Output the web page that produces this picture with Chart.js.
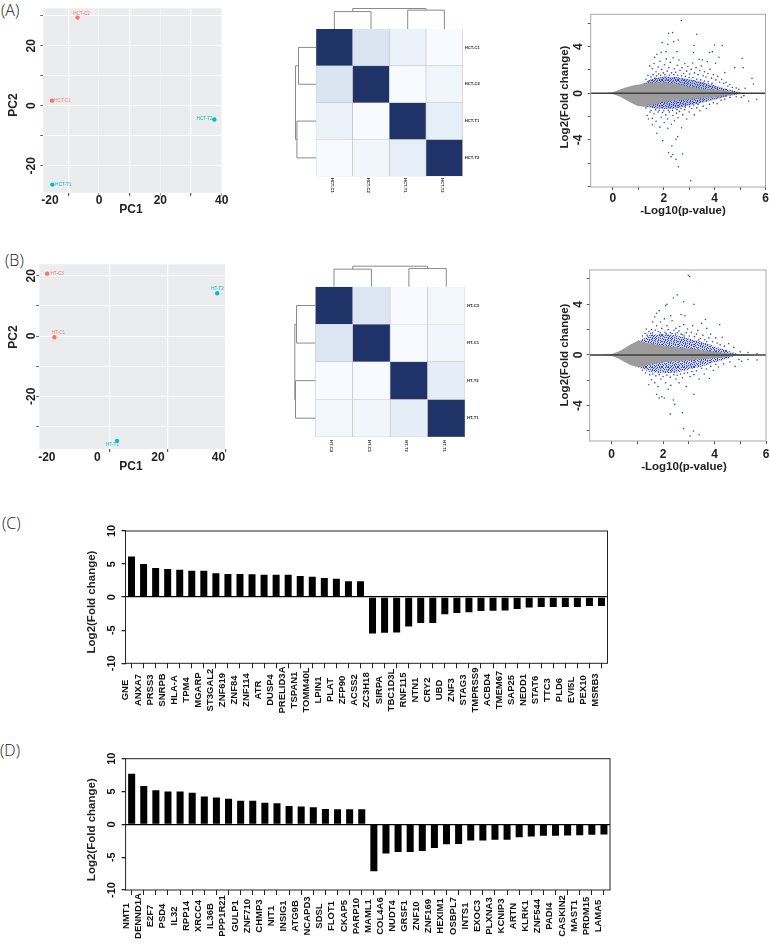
<!DOCTYPE html>
<html><head><meta charset="utf-8">
<script src="https://cdn.jsdelivr.net/npm/chart.js@4/dist/chart.umd.min.js"></script>
<style>
html,body{margin:0;padding:0;background:#fff;width:770px;height:944px;overflow:hidden}
canvas{position:absolute;display:block}
.tag{position:absolute;font:300 16px/16px "Open Sans","Noto Sans",sans-serif;color:#222}
</style></head><body>
<div class="tag" style="left:1px;top:2px">(A)</div>
<div class="tag" style="left:5px;top:252px">(B)</div>
<div class="tag" style="left:2px;top:515px">(C)</div>
<div class="tag" style="left:0px;top:742px">(D)</div>
<script>
/* ---------- PCA data ---------- */
const pcaA_names=['HCT-C2','HCT-C1','HCT-T2','HCT-T1'];
const pcaA_x=[-7,-15.3,37.6,-15.2];
const pcaA_y=[29.4,1.7,-4.6,-26.3];
const pcaA_xTicks=[-16,-10,0,10,20,30,40];
const pcaA_xLabels=['-20','','0','','20','','40'];
const pcaA_yTicks=[30,20,10,0,-10,-20];
const pcaA_yLabels=['','20','','0','','-20'];
const pcaB_names=['HT-C3','HT-C1','HT-T2','HT-T1'];
const pcaB_x=[-16.6,-14.2,39.6,6.5];
const pcaB_y=[20.7,-0.4,14.2,-34.8];
const pcaB_xTicks=[-16.7,0,3.9,20,23.1,40,42.4];
const pcaB_xLabels=['-20','0','','20','','40',''];
const pcaB_yTicks=[20,10,0,-10,-20,-30];
const pcaB_yLabels=['20','','0','','-20',''];
const pcaColors=['#F8766D','#F8766D','#00BFC4','#00BFC4'];
/* ---------- heat map data ---------- */
const heatA_labels=['HCT-C1','HCT-C2','HCT-T1','HCT-T2'];
const heatA=[[1,.2,.08,.01],[.2,1,.01,.05],[.08,.01,1,.12],[.01,.05,.12,1]];
const heatB_labels=['HT-C3','HT-C1','HT-T2','HT-T1'];
const heatB=[[1,.19,.005,.04],[.19,1,.005,.05],[.005,.005,1,.13],[.04,.05,.13,1]];
/* merge heights of the dendrograms, relative to the root */
const dendroA_top=[.85,.92,1], dendroA_side=[.855,.93,1];
const dendroB_top=[.855,.885,1], dendroB_side=[.915,.965,1];
/* ---------- MA plots: outline of the grey and blue clouds ---------- */
const maA_greyUp=[[-.87,.02],[-.3,.03],[0,.08],[.25,.3],[.5,.5],[.75,.65],[1,.75],[1.25,.85],[1.5,.9],[2,.95],[2.5,.8],[3,.55],[3.5,.42],[4,.33],[4.5,.18],[4.8,.08],[5,.04],[5.5,.01]];
const maA_greyDn=[[-.87,-.02],[-.3,-.03],[0,-.08],[.25,-.25],[.5,-.55],[.75,-.85],[1,-1.12],[1.25,-1.1],[1.5,-1],[2,-.75],[2.5,-.6],[3,-.52],[3.5,-.42],[4,-.32],[4.5,-.17],[5,-.03],[5.5,-.01]];
const maA_blueUp=[[1.1,.78],[1.25,.9],[1.5,1.2],[2,1.45],[2.5,1.4],[3,1.2],[3.5,1],[4,.68],[4.5,.35],[5,.08]];
const maA_blueDn=[[1.1,-1.12],[1.25,-1.15],[1.5,-1.25],[2,-1.35],[2.5,-1.3],[3,-1.05],[3.5,-.8],[4,-.55],[4.5,-.25],[5,-.05]];
const maA_ptsUp=[[2.69,6.23],[2.19,5.14],[2.35,5.2],[3.3,5.06],[2.57,4.57],[2.39,4.43],[1.94,4.34],[2.16,4.2],[4,4.14],[4.3,4.09],[3.19,4.09],[2.52,3.57],[2.09,3.57],[1.9,3.51],[1.73,3.34],[1.64,3.09],[3.91,3.57],[3.8,3.49],[5.08,3],[4.17,3.09],[3.17,3.49],[3.39,2.91],[3.52,2.86],[3.71,2.71],[5.47,1.29],[5.53,.8],[5.12,2.2],[4.79,2.2],[4.4,1.77],[4.04,2.57],[5.2,.43],[4.95,.34],[1.45,2.35],[1.55,2.1],[1.62,2.55],[1.7,1.85],[1.78,2.25],[1.85,2.75],[1.92,2.05],[1.98,1.75],[2.03,2.45],[2.1,2.95],[2.14,1.9],[2.2,2.2],[2.26,2.65],[2.31,1.75],[2.37,3.05],[2.42,2.1],[2.47,1.8],[2.53,2.4],[2.6,2.85],[2.64,1.95],[2.72,2.2],[2.78,1.7],[2.83,2.55],[2.9,1.9],[2.95,2.3],[3.02,1.65],[3.08,2.05],[3.14,2.6],[3.21,1.75],[3.27,2.2],[3.35,1.6],[3.42,1.95],[3.48,2.35],[3.55,1.5],[3.6,1.85],[3.66,1.4],[3.74,1.7],[3.82,2.05],[3.88,1.3],[3.95,1.6],[4.05,1.15],[4.12,1.45],[4.2,.95],[4.28,1.2],[4.36,.85],[4.45,.95],[4.52,.6],[4.6,.75],[4.7,.5],[4.85,.45],[1.3,1.2],[1.38,1.55],[1.42,1.05],[1.5,1.4],[1.58,1.6],[1.65,1.3],[1.72,1.5],[1.8,1.65],[1.88,1.55],[2.05,1.6],[2.22,1.55],[2.4,1.6],[2.55,1.55],[2.7,1.5],[2.85,1.45],[3,1.35],[3.15,1.35],[3.3,1.2],[3.45,1.15],[3.6,1.05],[3.75,1],[3.9,.85]];
const maA_ptsDn=[[3.06,-7.49],[2.58,-6.29],[2.74,-5.2],[2.19,-5.09],[2.29,-5.43],[2.48,-5.66],[2.35,-5.25],[2.32,-4.51],[2.48,-3.94],[2.55,-3.71],[1.96,-4.06],[1.73,-3.43],[2.16,-3],[1.55,-2.7],[1.4,-2.2],[1.35,-1.9],[1.46,-1.6],[1.55,-2.15],[1.62,-1.75],[1.7,-2.4],[1.78,-1.6],[1.85,-2.9],[1.9,-2.05],[1.95,-1.65],[2.02,-2.5],[2.08,-1.85],[2.15,-2.2],[2.22,-1.6],[2.3,-2.65],[2.36,-1.9],[2.42,-2.35],[2.5,-1.7],[2.56,-2.1],[2.62,-1.55],[2.7,-2.95],[2.75,-1.85],[2.82,-1.4],[2.9,-2.2],[3,-1.6],[3.1,-1.3],[3.2,-1.85],[3.3,-1.25],[3.42,-1.5],[3.55,-1.1],[3.68,-1.3],[3.8,-.95],[3.95,-.8],[4.1,-.9],[4.25,-.6],[4.4,-.5],[4.6,-.35],[4.85,-.3],[5.05,-.35],[5.34,-.66],[5.66,-.51],[5.15,-.2],[1.3,-1.25],[1.5,-1.45],[1.68,-1.4],[1.82,-1.45],[2,-1.5],[2.18,-1.45],[2.35,-1.45],[2.52,-1.4],[2.68,-1.3],[2.85,-1.2],[3.02,-1.15],[3.18,-1],[3.35,-.95]];
const maB_greyUp=[[-.85,.02],[-.3,.03],[0,.07],[.25,.26],[.5,.53],[.75,.84],[1,1.1],[1.25,1],[1.5,.88],[2,.74],[2.5,.62],[3,.52],[3.5,.38],[4,.26],[4.5,.14],[4.9,.05],[5.5,.01]];
const maB_greyDn=[[-.85,-.02],[-.3,-.03],[0,-.07],[.25,-.25],[.5,-.55],[.75,-.8],[1,-.95],[1.25,-.9],[1.5,-.76],[2,-.58],[2.5,-.48],[3,-.42],[3.5,-.33],[4,-.26],[4.5,-.15],[4.8,-.05],[5.5,-.01]];
const maB_blueUp=[[1,1.1],[1.25,1.3],[1.5,1.6],[2,1.65],[2.5,1.55],[3,1.3],[3.5,1.05],[4,.7],[4.5,.35],[4.9,.08]];
const maB_blueDn=[[1,-.95],[1.25,-1.15],[1.5,-1.35],[2,-1.45],[2.5,-1.4],[3,-1.15],[3.5,-.9],[4,-.6],[4.5,-.3],[4.8,-.05]];
const maB_ptsUp=[[2.98,6.3],[3.03,6.2],[2.55,4.75],[2.4,4.5],[2.8,4.2],[3.2,4],[2.15,4],[2.1,3.9],[1.75,3.3],[1.85,3.5],[1.68,3],[1.6,2.6],[2.7,3.2],[2.85,3.1],[2.3,3.1],[2.05,2.85],[3.65,2.8],[4.2,2.4],[2.8,2.4],[2.65,2.25],[3.5,2.5],[1.55,2],[1.35,2.05],[1.75,2.3],[1.9,2.6],[2.15,2.3],[2.35,2.7],[2.5,2.1],[2.95,2.05],[3.15,2.3],[3.35,1.95],[3.7,2.1],[3.85,1.65],[4.05,1.35],[4.3,1.4],[4.55,.9],[4.75,.6],[5,.25],[5.3,.2],[5.65,.1],[1.2,1.5],[1.3,1.7],[1.45,1.85],[1.6,1.75],[1.7,1.95],[1.82,1.85],[1.95,2.1],[2.08,1.8],[2.2,2],[2.28,1.75],[2.42,1.95],[2.55,1.75],[2.62,1.9],[2.75,1.6],[2.9,1.75],[3.02,1.5],[3.1,1.8],[3.22,1.45],[3.3,1.65],[3.45,1.3],[3.55,1.55],[3.62,1.2],[3.78,1.35],[3.92,1.05],[4.1,.95],[4.22,.8],[4.38,.7],[1.38,1.55],[1.52,1.7],[1.9,1.75],[2.12,1.7],[2.35,1.7],[2.48,1.65],[2.7,1.65],[2.82,1.5],[3.38,1.2],[3.7,1.05]];
const maB_ptsDn=[[3.05,-6.4],[3.18,-6],[3.4,-6.3],[2.8,-5.8],[2.75,-4.55],[2.28,-4.65],[2.4,-3.55],[2.45,-3.9],[1.75,-3.1],[1.85,-3.4],[2.05,-3.4],[1.95,-3.3],[3.2,-3.1],[2.2,-2.7],[1.45,-2.35],[1.55,-1.95],[1.68,-2.2],[1.8,-2.5],[1.92,-1.9],[2.1,-2.2],[2.3,-2.4],[2.5,-1.9],[2.62,-2.2],[2.75,-1.8],[2.9,-2.5],[3.05,-1.7],[3.2,-1.55],[3.4,-1.9],[3.6,-1.5],[3.8,-1.85],[3.95,-1.2],[4.15,-.95],[4.35,-.7],[4.6,-.55],[4.8,-.9],[4.95,-.35],[5.05,-.5],[5.3,-.35],[5.65,-.4],[1.2,-1.2],[1.32,-1.4],[1.48,-1.55],[1.6,-1.5],[1.72,-1.65],[1.85,-1.55],[2,-1.7],[2.15,-1.6],[2.28,-1.75],[2.42,-1.55],[2.55,-1.6],[2.68,-1.5],[2.82,-1.45],[2.95,-1.4],[3.12,-1.3],[3.3,-1.25],[3.5,-1.05],[3.68,-1.1],[3.85,-.9],[4.05,-.75]];
const maA_zero=[[-.87,0],[6,0]];
const maB_zero=[[-.85,0],[6,0]];
/* ---------- bar chart data ---------- */
const genesC=['GNE','ANXA7','PRSS3','SNRPB','HLA-A','TPM4','MGARP','ST3GAL2','ZNF619','ZNF84','ZNF114','ATR','DUSP4','PRELID3A','TSPAN1','TOMM40L','LPIN1','PLAT','ZFP90','ACSS2','ZC3H18','SIRPA','TBC1D3L','RNF115','NTN1','CRY2','UBD','ZNF3','STAG3','TMPRSS9','ACBD4','TMEM67','SAP25','NEDD1','STAT6','TTC3','PLD6','EVI5L','PEX10','MSRB3'];
const valuesC=[6.15,5,4.4,4.25,4.15,4,4,3.6,3.5,3.5,3.45,3.4,3.4,3.4,3.2,3.1,2.9,2.8,2.4,2.4,-5.5,-5.4,-5.35,-4.45,-3.9,-3.9,-2.6,-2.4,-2.3,-2.1,-2.05,-2,-1.8,-1.55,-1.5,-1.5,-1.5,-1.5,-1.35,-1.35];
const genesD=['NMT1','DENND1A','E2F7','PSD4','IL32','RPP14','XRCC4','IL36B','PPP1R21','GULP1','ZNF710','CHMP3','NIT1','INSIG1','ATG9B','NCAPD3','SDSL','FLOT1','CKAP5','PARP10','MAML1','COL4A6','NUDT4','GRSF1','ZNF10','ZNF169','HEXIM1','OSBPL7','INTS1','EXOC3','PLXNA3','KCNIP3','ARTN','KLRK1','ZNF544','PADI4','CASKIN2','MAST1','PRDM15','LAMA5'];
const valuesD=[7.7,5.85,5.2,5,5,4.8,4.25,4.1,3.9,3.6,3.6,3.3,3.2,2.8,2.7,2.6,2.35,2.3,2.3,2.3,-7.15,-4.45,-4.2,-4.2,-4.05,-3.6,-3.05,-3,-2.45,-2.45,-2.35,-2.35,-1.95,-1.85,-1.75,-1.75,-1.7,-1.65,-1.6,-1.55];
const barTicks=[10,5,0,-5,-10];

/* ---------- helpers ---------- */
const FF='"Liberation Sans",Arial,sans-serif';
const B=(s)=>({family:FF,size:s,weight:'bold'});
function mk(r){const c=document.createElement('canvas');c.width=r.w;c.height=r.h;
  c.style.left=r.x+'px';c.style.top=r.y+'px';c.style.width=r.w+'px';c.style.height=r.h+'px';document.body.appendChild(c);return c;}
function padding(r,a){return {left:0,top:a.t-r.y,right:r.x+r.w-a.r,bottom:0};}
function fitX(r,a){return s=>{s.height=r.y+r.h-a.b;s.paddingLeft=s.paddingRight=s.paddingTop=s.paddingBottom=0;};}
function fitY(r,a){return s=>{s.width=a.l-r.x;s.paddingLeft=s.paddingRight=s.paddingTop=s.paddingBottom=0;};}

/* speckle texture that stands for the dense blue points */
const speckRows=['#..#.##.#..#.#.#','.#.....#..#...#.','..#.#.#..#..#...','#.....#.#.#...#.','.#.#.#...#..#...','...#..#.#...#.#.','#.#..#...#.#...#','..#.#..#....#.#.','.#...#.#.#.#....','#..#...#...#.#.#','.#..#.#..#...#..','#.....#.#..#...#','..#.#...#.#..#..','#..#..#.....#.#.','.#..#...#.#.#...','#...#.#..#...#.#'];
function speckle(base){const t=document.createElement('canvas');t.width=t.height=16;const c=t.getContext('2d');
  c.fillStyle='rgba(59,76,168,'+base+')';c.fillRect(0,0,16,16);
  c.fillStyle='#3B4CA8';
  speckRows.forEach((row,j)=>[...row].forEach((ch,i)=>{if(ch==='#')c.fillRect(i,j,1,1);}));
  return c.createPattern(t,'repeat');}

/* places axis labels and titles at page positions */
const placer={id:'placer',beforeDraw(ch,_a,o){
  const r=o.rect;
  for(const id of ['x','y']){const s=ch.scales[id],t=o[id];if(!t)continue;
    for(const it of s.getLabelItems(ch.chartArea)){const p=it.options;it.textOffset=0;
      if(t.rotation!==undefined)p.rotation=t.rotation;
      if(t.align)p.textAlign=t.align;
      p.textBaseline='middle';
      if(t.x!==undefined)p.translation[0]=t.x-r.x;
      if(t.y!==undefined)p.translation[1]=t.y-r.y;
    }
    if(t.title&&!s._moved){s._moved=true;const orig=s.drawTitle.bind(s),ctx=s.ctx;
      const lh=s.options.title.font.size*1.2/2;
      const nx=id==='x'?(s.left+s.right)/2:s.left+lh, ny=id==='x'?s.bottom-lh:(s.top+s.bottom)/2;
      const dx=t.title[0]-r.x-nx, dy=t.title[1]-r.y-ny;
      s.drawTitle=function(){ctx.save();ctx.translate(dx,dy);orig();ctx.restore();};
    }
  }
}};
const panelBg={id:'panelBg',beforeDraw(ch,_a,o){if(!o.color)return;const c=ch.chartArea,x=ch.ctx;
  x.save();x.fillStyle=o.color;x.fillRect(c.left,c.top,c.width,c.height);x.restore();}};
const frame={id:'frame',afterDraw(ch,_a,o){if(!o.color)return;const c=ch.chartArea,x=ch.ctx;
  x.save();x.strokeStyle=o.color;x.lineWidth=o.width||1;x.strokeRect(c.left,c.top,c.width,c.height);x.restore();}};
const pointNames={id:'pointNames',afterDatasetsDraw(ch,_a,o){if(!o.names)return;const x=ch.ctx;
  const m=ch.getDatasetMeta(0);x.save();x.font='4.6px '+FF;x.textAlign='center';x.textBaseline='middle';
  o.names.forEach((n,i)=>{const p=m.data[i];x.fillStyle=pcaColors[i];x.fillText(n,p.x+o.off[i][0],p.y+o.off[i][1]);});x.restore();}};
const dendro={id:'dendro',afterDraw(ch,_a,o){if(!o.top)return;const x=ch.ctx,X=ch.scales.x,Y=ch.scales.y,c=ch.chartArea;
  x.save();x.strokeStyle='#8a8a8a';x.lineWidth=1;
  const seg=(a,b,d,e)=>{x.beginPath();x.moveTo(a,b);x.lineTo(d,e);x.stroke();};
  const px=o.size;
  const top=(h)=>c.top-h*px, lft=(h)=>c.left-h*px;
  const cx=i=>i%1?(X.getPixelForValue(i-.5)+X.getPixelForValue(i+.5))/2:X.getPixelForValue(i), cy=i=>Y.getPixelForValue(i+.5);
  const bracketT=(a,b,h,ha,hb)=>{const p=cx(a),q=cx(b);seg(p,top(h),q,top(h));seg(p,top(h),p,top(ha));seg(q,top(h),q,top(hb));};
  const bracketL=(a,b,h,ha,hb)=>{const p=cy(a),q=cy(b);seg(lft(h),p,lft(h),q);seg(lft(h),p,lft(ha),p);seg(lft(h),q,lft(hb),q);};
  const T=o.top,S=o.side;
  bracketT(0,1,T[0],0,0);bracketT(2,3,T[1],0,0);bracketT(.5,2.5,T[2],T[0],T[1]);
  bracketL(0,1,S[0],0,0);bracketL(2,3,S[1],0,0);bracketL(.5,2.5,S[2],S[0],S[1]);
  x.restore();}};
Chart.register(placer,panelBg,frame,pointNames,dendro);

function tickSetter(vals){return s=>{s.ticks=vals.map(v=>({value:v}));};}
function labelMap(vals,labs){return v=>{const i=vals.indexOf(v);return i<0?'':labs[i];};}

function pca(r,a,opt){
  new Chart(mk(r),{type:'scatter',
    data:{datasets:[{data:opt.x.map((v,i)=>({x:v,y:opt.y[i]})),backgroundColor:pcaColors,pointRadius:2.2,pointBorderWidth:0}]},
    options:{responsive:false,animation:false,devicePixelRatio:1,layout:{padding:padding(r,a)},
      plugins:{legend:{display:false},tooltip:{enabled:false},panelBg:{color:'#EAECEE'},
        pointNames:{names:opt.names,off:opt.off},
        placer:{rect:r,x:{y:opt.xLabY,title:opt.xTitle,align:'center'},y:{rotation:-Math.PI/2,align:'center',x:opt.yLabX,title:opt.yTitle}}},
      scales:{
        x:{type:'linear',min:opt.xr[0],max:opt.xr[1],afterFit:fitX(r,a),afterBuildTicks:tickSetter(opt.xT),
          border:{display:false},
          grid:{color:c=>opt.xStrong.includes(c.tick.value)?'#fff':(opt.xHide.includes(c.tick.value)?'rgba(0,0,0,0)':'rgba(255,255,255,.75)'),
            lineWidth:c=>opt.xStrong.includes(c.tick.value)?1.2:.6,tickLength:3,
            tickColor:c=>opt.xHide.includes(c.tick.value)?'rgba(0,0,0,0)':'#555'},
          ticks:{autoSkip:false,maxRotation:0,padding:2,color:'#222',font:B(12),callback:labelMap(opt.xT,opt.xL)},
          title:{display:true,text:'PC1',color:'#222',font:B(12),padding:0}},
        y:{type:'linear',min:opt.yr[0],max:opt.yr[1],afterFit:fitY(r,a),afterBuildTicks:tickSetter(opt.yT),
          border:{display:false},
          grid:{color:'rgba(255,255,255,.95)',lineWidth:.9,tickLength:3,tickColor:'#555'},
          ticks:{autoSkip:false,padding:2,color:'#222',font:B(12),callback:labelMap(opt.yT,opt.yL)},
          title:{display:true,text:'PC2',color:'#222',font:B(12),padding:0}}
      }}});
}
pca({x:0,y:0,w:250,h:225},{l:43.3,r:221.7,t:8.3,b:192.7},{
  x:pcaA_x,y:pcaA_y,names:pcaA_names,off:[[4,-3.6],[10.5,.3],[-9.7,-.5],[11,0]],
  xr:[-18.15,40],yr:[-29,32.5],xT:pcaA_xTicks,xL:pcaA_xLabels,yT:pcaA_yTicks,yL:pcaA_yLabels,
  xStrong:[-10,10,30],xHide:[-16],xLabY:201,yLabX:32,xTitle:[131,210],yTitle:[13.7,105]});
pca({x:0,y:245,w:250,h:232},{l:39.3,r:226,t:264.3,b:449},{
  x:pcaB_x,y:pcaB_y,names:pcaB_names,off:[[10,.3],[4,-4],[.3,-4],[-4.7,3.6]],
  xr:[-19.2,42.5],yr:[-37.5,23.8],xT:pcaB_xTicks,xL:pcaB_xLabels,yT:pcaB_yTicks,yL:pcaB_yLabels,
  xStrong:[3.9,23.1,42.4],xHide:[-16.7,0,20,40],xLabY:457.7,yLabX:32,xTitle:[131,466.7],yTitle:[13.7,337]});

/* heat maps */
function hx(s){return [1,3,5].map(i=>parseInt(s.substr(i,2),16));}
function heatColor(v){const lo=hx('#F8FBFF'),mid=hx('#DAE5F2'),hi=hx('#1F3368');
  const [a,b,t]=v<.2?[lo,mid,v/.2]:[mid,hi,(v-.2)/.8];
  return 'rgb('+a.map((c,i)=>Math.round(c+(b[i]-c)*t)).join(',')+')';}
function heat(r,a,labels,mat,top,side){
  new Chart(mk(r),{type:'bar',
    data:{labels:labels,datasets:mat.map((row,i)=>({data:row.map(()=>1),backgroundColor:row.map(heatColor),borderColor:'#BDBDBD',borderWidth:.6,barPercentage:1,categoryPercentage:1}))},
    options:{responsive:false,animation:false,devicePixelRatio:1,layout:{padding:{left:a.l-r.x,top:a.t-r.y,right:0,bottom:0}},
      plugins:{legend:{display:false},tooltip:{enabled:false},dendro:{top:top,side:side,size:20.5},
        placer:{rect:r,x:{rotation:Math.PI/2,align:'center',y:a.b+9},y:{align:'left',x:a.r+2}}},
      scales:{
        x:{stacked:true,afterFit:fitX(r,a),border:{display:false},grid:{display:false,drawTicks:false},
          ticks:{autoSkip:false,minRotation:90,maxRotation:90,font:B(4.2),color:'#222'}},
        y:{stacked:true,reverse:true,min:0,max:4,position:'right',
          afterFit:s=>{s.width=r.x+r.w-a.r;s.paddingLeft=s.paddingRight=s.paddingTop=s.paddingBottom=0;},
          afterBuildTicks:tickSetter([.5,1.5,2.5,3.5]),border:{display:false},grid:{display:false,drawTicks:false},
          ticks:{autoSkip:false,font:B(4.2),color:'#222',callback:labelMap([.5,1.5,2.5,3.5],labels)}}
      }}});
}
heat({x:290,y:0,w:200,h:200},{l:316,r:462.7,t:29,b:176.3},heatA_labels,heatA,dendroA_top,dendroA_side);
heat({x:290,y:255,w:200,h:200},{l:315.3,r:465,t:286.7,b:437},heatB_labels,heatB,dendroB_top,dendroB_side);

/* MA plots */
const P=a=>a.map(p=>({x:p[0],y:p[1]}));
function ma(r,a,o){
  const area=(d,c,n)=>({data:P(d),showLine:true,pointRadius:0,borderWidth:0,fill:'origin',backgroundColor:c,tension:0,order:n});
  new Chart(mk(r),{type:'scatter',
    data:{datasets:[
      {data:P(o.zero),showLine:true,pointRadius:0,borderColor:'#3d3d3d',borderWidth:1.6,order:0},
      area(o.gU,'#9C9C9C',1),area(o.gD,'#9C9C9C',2),
      {data:P(o.pU),pointRadius:.8,pointBorderWidth:0,backgroundColor:'#3B4CA8',order:3},
      {data:P(o.pD),pointRadius:.8,pointBorderWidth:0,backgroundColor:'#3B4CA8',order:4},
      area(o.bU,o.band,5),area(o.bD,o.band,6)
    ]},
    options:{responsive:false,animation:false,devicePixelRatio:1,layout:{padding:padding(r,a)},
      plugins:{legend:{display:false},tooltip:{enabled:false},frame:{color:'#A8A8A8',width:1},
        placer:{rect:r,x:{y:o.xLabY,title:o.xTitle,align:'center'},y:{rotation:-Math.PI/2,align:'center',x:579,title:o.yTitle}}},
      scales:{
        x:{type:'linear',min:o.xMin,max:6,afterFit:fitX(r,a),afterBuildTicks:tickSetter([0,1,2,3,4,5,6]),border:{display:false},
          grid:{drawOnChartArea:false,tickLength:3,tickColor:'#555'},
          ticks:{autoSkip:false,maxRotation:0,color:'#222',font:B(12),callback:v=>v%2===0?String(v):''},
          title:{display:true,text:'-Log10(p-value)',color:'#222',font:B(11.5),padding:0}},
        y:{type:'linear',min:o.yr[0],max:o.yr[1],afterFit:fitY(r,a),afterBuildTicks:tickSetter(o.yT),border:{display:false},
          grid:{drawOnChartArea:false,tickLength:3,tickColor:'#555'},
          ticks:{autoSkip:false,color:'#222',font:B(12),callback:v=>(v===4||v===0||v===-4)?String(v):''},
          title:{display:true,text:'Log2(Fold change)',color:'#222',font:B(11.5),padding:0}}
      }}});
}
ma({x:550,y:0,w:220,h:225},{l:590.7,r:765.5,t:14.3,b:187},{
  zero:maA_zero,gU:maA_greyUp,gD:maA_greyDn,bU:maA_blueUp,bD:maA_blueDn,pU:maA_ptsUp,pD:maA_ptsDn,band:speckle(.4),
  xMin:-.87,yr:[-8.03,6.77],yT:[6,4,2,0,-2,-4,-6,-8],xLabY:199,xTitle:[683,210.7],yTitle:[565,97]});
ma({x:550,y:255,w:220,h:225},{l:589.7,r:766.5,t:270,b:441},{
  zero:maB_zero,gU:maB_greyUp,gD:maB_greyDn,bU:maB_blueUp,bD:maB_blueDn,pU:maB_ptsUp,pD:maB_ptsDn,band:speckle(.25),
  xMin:-.85,yr:[-6.79,6.71],yT:[6,4,2,0,-2,-4,-6],xLabY:455,xTitle:[684,466.7],yTitle:[565,355]});

/* bar charts */
function bars(r,a,names,vals,labY,yTitle){
  new Chart(mk(r),{type:'bar',
    data:{labels:names,datasets:[{data:vals,backgroundColor:'#000',barPercentage:.58,categoryPercentage:1}]},
    options:{responsive:false,animation:false,devicePixelRatio:1,layout:{padding:padding(r,a)},
      plugins:{legend:{display:false},tooltip:{enabled:false},frame:{color:'#222',width:1},
        placer:{rect:r,x:{rotation:-Math.PI/2,align:'center',y:labY},y:{rotation:-Math.PI/2,align:'center',x:111.7,title:yTitle}}},
      scales:{
        x:{afterFit:fitX(r,a),border:{display:false},grid:{drawOnChartArea:false,tickLength:5,tickColor:'#222',offset:false},
          ticks:{autoSkip:false,minRotation:90,maxRotation:90,color:'#111',font:B(9.5)}},
        y:{type:'linear',min:-10,max:10,afterFit:fitY(r,a),afterBuildTicks:tickSetter(barTicks),border:{display:false},
          grid:{color:c=>c.tick.value===0?'#000':'rgba(0,0,0,0)',lineWidth:1.3,tickLength:4,tickColor:'#222'},
          ticks:{autoSkip:false,color:'#111',font:B(11)},
          title:{display:true,text:'Log2(Fold change)',color:'#222',font:B(11.5),padding:0}}
      }}});
}
bars({x:40,y:515,w:590,h:205},{l:125.5,r:607.5,t:531,b:663.3},genesC,valuesC,690,[92.3,602]);
bars({x:40,y:745,w:590,h:199},{l:125.6,r:610,t:758.7,b:890},genesD,valuesD,916,[91.7,829.7]);
</script>
</body></html>
